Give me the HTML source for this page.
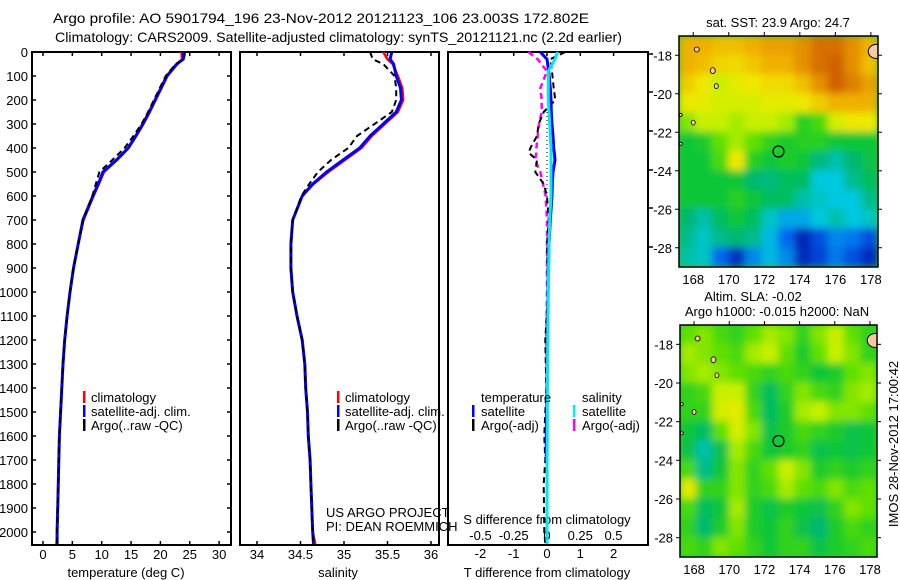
<!DOCTYPE html>
<html><head><meta charset="utf-8">
<style>
html,body{margin:0;padding:0;background:#fff;}
svg{display:block;font-family:"Liberation Sans",sans-serif;}
text{fill:#000;}
</style></head>
<body>
<svg id="fig" width="900" height="580" viewBox="0 0 900 580">
<defs>
<filter id="blur" x="-5%" y="-5%" width="110%" height="110%"><feGaussianBlur stdDeviation="4"/></filter>
<clipPath id="clipTop"><rect x="679" y="36" width="199" height="231"/></clipPath>
<clipPath id="clipBot"><rect x="680" y="325" width="197" height="232"/></clipPath>
</defs>
<text x="53" y="23" font-size="14" textLength="536" lengthAdjust="spacingAndGlyphs">Argo profile: AO 5901794_196 23-Nov-2012 20121123_106 23.003S 172.802E</text>
<text x="55" y="42" font-size="14" textLength="567" lengthAdjust="spacingAndGlyphs">Climatology: CARS2009. Satellite-adjusted climatology: synTS_20121121.nc (2.2d earlier)</text>
<g id="plots"></g>
</svg>
<script>
// ---------- data ----------
const depths = [0,30,50,100,150,200,250,300,350,400,450,500,550,600,700,800,900,1000,1100,1200,1300,1400,1500,1600,1700,1800,1900,2000,2050];
const tempSat = [23.9,23.9,22.8,21.1,20.1,19.1,18.1,17.0,15.8,14.5,12.5,10.2,9.4,8.5,6.8,6.0,5.2,4.6,4.1,3.7,3.4,3.2,3.0,2.8,2.7,2.6,2.5,2.4,2.4];
const tempClim = [23.6,23.7,22.9,21.2,20.2,19.2,18.2,17.1,15.9,14.6,12.6,10.4,9.5,8.6,6.9,6.0,5.2,4.6,4.1,3.7,3.4,3.2,3.0,2.8,2.7,2.6,2.5,2.4,2.3];
const tempArgo = [24.2,24.0,22.6,20.9,19.9,18.9,17.9,16.8,15.4,13.9,11.8,9.6,9.0,8.4,6.8,6.0,5.2,4.6,4.1,3.7,3.4,3.2,3.0,2.8,2.7,2.6,2.5,2.4,2.4];
const salSat = [35.55,35.53,35.57,35.6,35.65,35.66,35.6,35.45,35.3,35.18,34.99,34.8,34.64,34.52,34.41,34.39,34.39,34.41,34.46,34.52,34.55,34.56,34.58,34.59,34.61,34.62,34.63,34.64,34.65];
const salClim = [35.45,35.5,35.56,35.62,35.67,35.68,35.62,35.47,35.32,35.2,35.01,34.82,34.65,34.52,34.41,34.39,34.39,34.41,34.46,34.52,34.55,34.56,34.58,34.59,34.61,34.62,34.63,34.64,34.67];
const salArgo = [35.3,35.33,35.45,35.58,35.6,35.6,35.55,35.35,35.15,35.05,34.85,34.7,34.6,34.51,34.41,34.39,34.39,34.41,34.46,34.52,34.55,34.56,34.58,34.59,34.61,34.62,34.63,34.64,34.65];
const diffDepths = [0,30,80,150,200,250,300,350,400,420,450,500,550,600,700,800,1000,1200,1400,1600,1700,1800,2000,2050];
const tDiffSat = [-0.2,0,0.05,0.1,0.12,0.13,0.15,0.18,0.2,0.22,0.24,0.18,0.16,0.15,0.1,0.06,0.03,0.02,0,-0.02,-0.02,null,null,null];
const sDiffSat = [0.08,0.06,0.01,0.01,0.01,0.015,0.02,0.025,0.03,0.03,0.03,0.03,0.03,0.03,0.02,0.015,0.01,0.005,0.003,0.002,0.001,0.001,0,0];
const sDiffArgo = [-0.14,-0.07,0,-0.05,-0.04,-0.04,-0.06,-0.07,-0.08,-0.08,-0.09,-0.05,-0.03,-0.01,0,0,0,-0.005,0,0,0,0,0,0];
const tDiffArgo = [0.55,0.1,0.15,0.2,0.25,-0.1,-0.25,-0.3,-0.5,-0.55,-0.3,-0.35,-0.1,0,0.05,0,0.03,-0.05,-0.02,-0.08,-0.05,-0.1,-0.08,-0.05];
const depthTicks = [0,100,200,300,400,500,600,700,800,900,1000,1100,1200,1300,1400,1500,1600,1700,1800,1900,2000];
const tempTicks = [0,5,10,15,20,25,30];
const salTicks = [34,34.5,35,35.5,36];
const sDiffTicks = [-0.5,-0.25,0,0.25,0.5];
const tDiffTicks = [-2,-1,0,1,2];
const lonTicks = [168,170,172,174,176,178];
const latTicks = [-18,-20,-22,-24,-26,-28];
const sstGrid = [
[.80,.80,.78,.78,.80,.82,.82,.84,.88,.88,.84,.80],
[.80,.78,.75,.74,.77,.80,.80,.84,.88,.90,.84,.78],
[.76,.72,.66,.70,.72,.74,.74,.78,.84,.90,.86,.82],
[.72,.70,.68,.68,.68,.70,.70,.72,.76,.80,.80,.80],
[.62,.66,.66,.64,.66,.66,.64,.55,.58,.68,.72,.72],
[.52,.54,.60,.64,.60,.56,.54,.55,.55,.52,.52,.52],
[.52,.52,.58,.72,.55,.52,.54,.52,.45,.42,.46,.50],
[.52,.52,.52,.52,.46,.45,.48,.48,.38,.38,.44,.48],
[.52,.52,.52,.55,.52,.48,.48,.42,.40,.38,.38,.44],
[.46,.42,.48,.52,.48,.40,.34,.34,.38,.42,.38,.40],
[.44,.40,.44,.46,.44,.36,.26,.14,.22,.30,.28,.22],
[.42,.40,.26,.16,.30,.36,.30,.15,.20,.28,.22,.15]];
const slaGrid = [
[.60,.62,.58,.56,.60,.64,.62,.56,.62,.66,.60,.56],
[.64,.62,.60,.58,.64,.66,.60,.54,.60,.66,.62,.56],
[.62,.64,.62,.60,.58,.56,.58,.56,.52,.54,.60,.62],
[.56,.58,.66,.66,.56,.48,.56,.62,.58,.56,.62,.64],
[.56,.56,.68,.70,.58,.48,.54,.64,.66,.62,.62,.60],
[.52,.48,.60,.68,.62,.50,.54,.58,.56,.54,.50,.52],
[.50,.42,.50,.64,.58,.52,.54,.56,.50,.52,.50,.52],
[.58,.44,.52,.62,.56,.60,.66,.62,.54,.56,.54,.56],
[.70,.56,.56,.62,.56,.58,.64,.60,.58,.62,.58,.60],
[.58,.48,.52,.64,.54,.50,.54,.52,.50,.56,.62,.60],
[.56,.46,.54,.62,.54,.52,.56,.50,.46,.54,.58,.56],
[.58,.56,.62,.60,.56,.52,.56,.56,.50,.54,.56,.58]];
const argoLon = 172.8, argoLat = -23.0;

// ---------- helpers ----------
const NS = "http://www.w3.org/2000/svg";
const root = document.getElementById('plots');
function mk(tag, attrs, parent){const e=document.createElementNS(NS,tag);for(const k in attrs)e.setAttribute(k,attrs[k]);(parent||root).appendChild(e);return e;}
function txt(x,y,s,size,anchor,parent){const t=mk('text',{x:x,y:y,'font-size':size,'text-anchor':anchor||'middle'},parent);t.textContent=s;return t;}
const yD = d => 52 + d*0.24;
const xT = t => 43 + t*5.87;
const xS = s => 257 + (s-34)*87;
const xTD = v => 547 + v*33.3;
const xSD = v => 547 + v*133;

function panel(x,w,name){
  const r=mk('rect',{x:x,y:52,width:w,height:493,fill:'none',stroke:'#000','stroke-width':2});
  
  
}
function line(xs,ds,xf,color,dash,width,name){
  let pts=[];
  const g=mk('g',{});
  
  
  const flush=()=>{if(pts.length>1){mk('polyline',{points:pts.join(' '),fill:'none',stroke:color,'stroke-width':width||2.5,'stroke-dasharray':dash||'none','stroke-linejoin':'round'},g);}pts=[];};
  for(let i=0;i<xs.length;i++){ if(xs[i]===null){flush();continue;} pts.push(xf(xs[i]).toFixed(1)+','+yD(ds[i]).toFixed(1)); }
  flush();
}

// ---------- panel 1: temperature ----------
panel(32,199,'temperature-panel');
depthTicks.forEach(d=>{
  mk('line',{x1:32,x2:36,y1:yD(d),y2:yD(d),stroke:'#000','stroke-width':1.5});
  mk('line',{x1:227,x2:231,y1:yD(d),y2:yD(d),stroke:'#000','stroke-width':1.5});
  const t=txt(28,yD(d)+5,String(d),13,'end');
  
  
});
tempTicks.forEach(v=>{
  mk('line',{x1:xT(v),x2:xT(v),y1:541,y2:545,stroke:'#000','stroke-width':1.5});
  mk('line',{x1:xT(v),x2:xT(v),y1:52,y2:56,stroke:'#000','stroke-width':1.5});
  const t=txt(xT(v),559,String(v),13);
  
  
});
txt(126,577,'temperature (deg C)',13);
line(tempClim,depths,xT,'#ff0000',null,2.5,'temperature-climatology-line');
line(tempSat,depths,xT,'#0000ff',null,3,'temperature-satellite-line');
line(tempArgo,depths,xT,'#000',"6,4",2,'temperature-argo-line');

// ---------- panel 2: salinity ----------
panel(240,199,'salinity-panel');
salTicks.forEach(v=>{
  mk('line',{x1:xS(v),x2:xS(v),y1:541,y2:545,stroke:'#000','stroke-width':1.5});
  mk('line',{x1:xS(v),x2:xS(v),y1:52,y2:56,stroke:'#000','stroke-width':1.5});
  const t=txt(xS(v),559,String(v),13);
  
  
});
txt(338,577,'salinity',13);
line(salClim,depths,xS,'#ff0000',null,2.5,'salinity-climatology-line');
line(salSat,depths,xS,'#0000ff',null,3,'salinity-satellite-line');
line(salArgo,depths,xS,'#000',"6,4",2,'salinity-argo-line');

// legends
function legend(mx,tx,items,name){
  const g=mk('g',{});
  
  
  items.forEach((it,i)=>{
    const y=397+i*14;
    mk('rect',{x:mx,y:y-6,width:2.5,height:12,fill:it[1]},g);
    txt(tx,y+5,it[0],13,'start',g);
  });
}
legend(83,91,[['climatology','#ff0000'],['satellite-adj. clim.','#0000ff'],['Argo(..raw -QC)','#000']],'temperature-legend');
legend(337,345,[['climatology','#ff0000'],['satellite-adj. clim.','#0000ff'],['Argo(..raw -QC)','#000']],'salinity-legend');
txt(326,517,'US ARGO PROJECT',13,'start');
txt(326,531,'PI: DEAN ROEMMICH',13,'start');

// ---------- panel 3: differences ----------
panel(448,200,'difference-panel');
tDiffTicks.forEach(v=>{
  mk('line',{x1:xTD(v),x2:xTD(v),y1:52,y2:56,stroke:'#000','stroke-width':1.5});
  const t=txt(xTD(v),558,String(v),13);
  
  
});
sDiffTicks.forEach(v=>{
  const t=txt(xSD(v),540,String(v),13);
  
  
});
[54,92,131,170,208,247].forEach(y=>mk('line',{x1:648,x2:653,y1:y,y2:y,stroke:'#000','stroke-width':1.5}));
txt(547,524,'S difference from climatology',13);
txt(547,577,'T difference from climatology',13);
mk('line',{x1:547,x2:547,y1:yD(250),y2:yD(650),stroke:'#000','stroke-width':1,'stroke-dasharray':'1,3'});
line(sDiffArgo,diffDepths,xSD,'#ff00ff',"6,4",2.5,'salinity-argo-diff-line');
line(tDiffArgo,diffDepths,xTD,'#000',"6,4",2,'temperature-argo-diff-line');
line(tDiffSat,diffDepths,xTD,'#0000ff',null,3,'temperature-satellite-diff-line');
line(sDiffSat,diffDepths,xSD,'#00e8f0',null,3,'salinity-satellite-diff-line');
legend(472,481,[['temperature','none'],['satellite','#0000ff'],['Argo(-adj)','#000']],'t-diff-legend');
legend(573,582,[['salinity','none'],['satellite','#00f0f0'],['Argo(-adj)','#ff00ff']],'s-diff-legend');

// ---------- maps ----------
const stops=[[0,[0,0,120]],[0.1,[0,16,160]],[0.25,[0,96,240]],[0.38,[0,200,224]],[0.46,[0,184,112]],[0.53,[16,200,48]],[0.6,[96,224,0]],[0.66,[200,240,0]],[0.72,[240,232,0]],[0.8,[240,176,0]],[0.9,[208,96,0]],[1,[180,60,0]]];
function cmap(v){for(let i=1;i<stops.length;i++){if(v<=stops[i][0]){const a=stops[i-1],b=stops[i],f=(v-a[0])/(b[0]-a[0]);const c=a[1].map((x,k)=>Math.round(x+(b[1][k]-x)*f));return 'rgb('+c.join(',')+')';}}return 'rgb(180,60,0)';}
function drawMap(grid,x0,y0,w,h,clip,name){
  const lonX = lon => x0 + (lon-167.2)/(178.4-167.2)*w;
  const latY = lat => y0 + (-17-lat)/12*h;
  const g=mk('g',{'clip-path':'url(#'+clip+')'});
  
  
  mk('rect',{x:x0,y:y0,width:w,height:h,fill:cmap(0.55)},g);
  const gb=mk('g',{filter:'url(#blur)'},g);
  const rows=grid.length, cols=grid[0].length;
  for(let r=0;r<rows;r++)for(let c=0;c<cols;c++){
    const cell=mk('rect',{x:x0+c*w/cols-0.5,y:y0+r*h/rows-0.5,width:w/cols+1,height:h/rows+1,fill:cmap(grid[r][c])},gb);
    
    
  }
  const land=[[168.2,-17.7,2.5,2.5],[169.1,-18.8,2.5,3],[169.3,-19.6,2,2.5],[167.3,-21.1,1.5,1.5],[168.0,-21.5,2,2.5],[167.3,-22.6,1.5,1.5]];
  land.forEach(l=>mk('ellipse',{cx:lonX(l[0]),cy:latY(l[1]),rx:l[2],ry:l[3],fill:'#f8c8a0',stroke:'#000','stroke-width':0.8},g));
  mk('ellipse',{cx:lonX(178.3),cy:latY(-17.8),rx:8,ry:7,fill:'#f8c8a0',stroke:'#000','stroke-width':1},g);
  mk('circle',{cx:lonX(argoLon),cy:latY(argoLat),r:5.5,fill:'none',stroke:'#000','stroke-width':1.2},g);
  mk('rect',{x:x0,y:y0,width:w,height:h,fill:'none',stroke:'#000','stroke-width':1.5});
  lonTicks.forEach(v=>{
    const x=lonX(v);
    mk('line',{x1:x,x2:x,y1:y0-4,y2:y0,stroke:'#000','stroke-width':1});
    const t=txt(x,y0+h+17,String(v),13);
    
    
  });
  latTicks.forEach(v=>{
    const y=latY(v);
    mk('line',{x1:x0-4,x2:x0,y1:y,y2:y,stroke:'#000','stroke-width':1});
    mk('line',{x1:x0+w,x2:x0+w+4,y1:y,y2:y,stroke:'#000','stroke-width':1});
    const t=txt(x0-7,y+5,String(v),13,'end');
    
    
  });
}
drawMap(sstGrid,679,36,199,231,'clipTop','sst-map');
drawMap(slaGrid,680,325,197,232,'clipBot','sla-map');
txt(778,27,'sat. SST: 23.9 Argo: 24.7',13);
txt(753,301,'Altim. SLA: -0.02',13);
txt(777,316,'Argo h1000: -0.015 h2000: NaN',13);
const v=txt(0,0,'IMOS 28-Nov-2012 17:00:42',13);
v.setAttribute('transform','translate(898,444) rotate(-90)');


</script>
</body></html>
